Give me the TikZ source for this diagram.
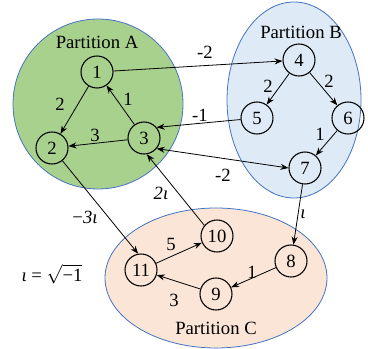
\documentclass[tikz,border=0pt]{standalone}
\usepackage{fontspec}
\setmainfont{Liberation Serif}
\usetikzlibrary{arrows.meta}

\definecolor{partA}{RGB}{169,209,142}
\definecolor{partB}{RGB}{222,235,247}
\definecolor{partC}{RGB}{251,229,214}
\definecolor{rim}{RGB}{68,114,196}

\begin{document}
\begin{tikzpicture}[x=0.75pt, y=-0.75pt,
    font=\fontsize{14}{16}\selectfont,
    vtx/.style={circle, draw, line width=0.8pt, minimum size=24pt, inner sep=0pt},
    arr/.style={-{Stealth[length=6pt, width=4.5pt]}, line width=0.6pt},
    lbl/.style={inner sep=0pt}]

  \useasboundingbox (0,0) rectangle (368,349);

  % partitions
  \draw[rim, fill=partA, line width=0.6pt] (98,104) circle [radius=85];
  \draw[rim, fill=partB, line width=0.6pt] (294,100) ellipse [x radius=67, y radius=98];
  \draw[rim, fill=partC, line width=0.6pt] (216,278) ellipse [x radius=111, y radius=70];
  \node[lbl] (pa) at (97,42) {Partition A};
  \node[lbl] (pb) at (301,32) {Partition B};
  \node[lbl] (pc) at (216,328) {Partition C};

  % vertices
  \node[vtx] (n1) at (97,72) {1};
  \node[vtx] (n2) at (52,148) {2};
  \node[vtx] (n3) at (144,138) {3};
  \node[vtx] (n4) at (299,60) {4};
  \node[vtx] (n5) at (257,118) {5};
  \node[vtx] (n6) at (348,118) {6};
  \node[vtx] (n7) at (305,168) {7};
  \node[vtx] (n8) at (291,261) {8};
  \node[vtx] (n9) at (216,294) {9};
  \node[vtx] (n10) at (217,236) {10};
  \node[vtx] (n11) at (141,270) {11};

  % edges
  \draw[arr] (n1) -- (n2);
  \draw[arr] (n3) -- (n1);
  \draw[arr] (n3) -- (n2);
  \draw[arr] (n1) -- (n4);
  \draw[arr] (n4) -- (n5);
  \draw[arr] (n4) -- (n6);
  \draw[arr] (n5) -- (n3.40);
  \draw[arr] (n6) -- (n7);
  \draw[arr, {Stealth[length=6pt, width=4.5pt]}-{Stealth[length=6pt, width=4.5pt]}] (n3.-40) -- (n7.180);
  \draw[arr] (n7) -- (n8);
  \draw[arr] (n2) -- (n11.100);
  \draw[arr] (n10.140) -- (n3.-80);
  \draw[arr] (n11) -- (n10);
  \draw[arr] (n9) -- (n11);
  \draw[arr] (n8) -- (n9);

  % weights
  \node[lbl] (w12) at (60,104) {2};
  \node[lbl] (w31) at (128,99) {1};
  \node[lbl] (w32) at (95,135) {3};
  \node[lbl] (w14) at (205,52) {-2};
  \node[lbl] (w45) at (268,86) {2};
  \node[lbl] (w46) at (329,81) {2};
  \node[lbl] (w53) at (200,115) {-1};
  \node[lbl] (w67) at (320,134) {1};
  \node[lbl] (w37) at (223,175) {-2};
  \node[lbl] (w78) at (303,214) {\itshape ι};
  \node[lbl] (w211) at (85,217) {−\itshape 3ι};
  \node[lbl] (w103) at (161,193) {\itshape 2ι};
  \node[lbl] (w1110) at (171,244) {5};
  \node[lbl] (w911) at (174,300) {3};
  \node[lbl] (w89) at (252,272) {1};

  % imaginary unit
  \node[lbl] (iota) at (52,274) {{\itshape ι} = $\sqrt{\mbox{−1}}$};

\end{tikzpicture}
\end{document}
